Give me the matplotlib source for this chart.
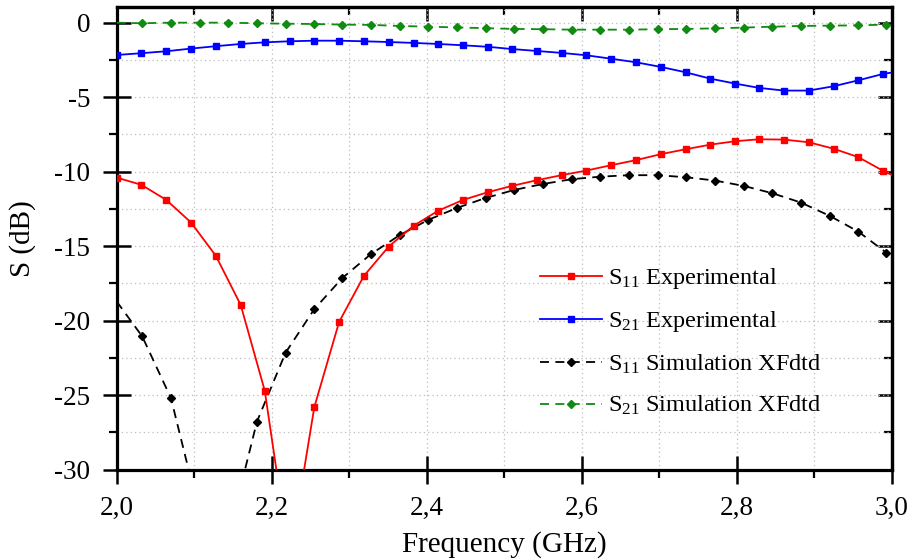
import matplotlib
matplotlib.use('Agg')
import matplotlib.pyplot as plt
from matplotlib.ticker import MultipleLocator, FuncFormatter

plt.rcParams['font.family'] = ['Liberation Serif', 'DejaVu Serif']
plt.rcParams['mathtext.default'] = 'regular'
plt.rcParams['axes.unicode_minus'] = False

# measured sweep: markers at every stored point, last point at 3.0 GHz has no marker
exp_freq = [2.000, 2.032, 2.064, 2.096, 2.128, 2.160, 2.191, 2.223, 2.255, 2.287,
            2.319, 2.351, 2.383, 2.415, 2.447, 2.479, 2.510, 2.542, 2.574, 2.606,
            2.638, 2.670, 2.702, 2.734, 2.766, 2.798, 2.829, 2.861, 2.893, 2.925,
            2.957, 2.989, 3.000]
s11_exp = [-10.40, -10.89, -11.90, -13.42, -15.66, -18.95, -24.70, -36.0, -25.81, -20.09,
           -17.00, -15.03, -13.64, -12.62, -11.90, -11.38, -10.96, -10.58, -10.24, -9.93,
           -9.57, -9.23, -8.83, -8.50, -8.19, -7.96, -7.83, -7.85, -8.03, -8.46,
           -9.03, -9.95, -10.22]
s21_exp = [-2.17, -2.05, -1.92, -1.74, -1.58, -1.43, -1.32, -1.25, -1.21, -1.21,
           -1.25, -1.30, -1.36, -1.43, -1.52, -1.62, -1.77, -1.90, -2.03, -2.19,
           -2.42, -2.66, -2.97, -3.33, -3.76, -4.09, -4.38, -4.56, -4.56, -4.27,
           -3.87, -3.44, -3.35]

# XFdtd simulation: first point (2.0 GHz) has no marker
sim_freq = [2.000, 2.033, 2.070, 2.107, 2.144, 2.181, 2.218, 2.255, 2.291, 2.328,
            2.365, 2.402, 2.439, 2.476, 2.513, 2.550, 2.587, 2.624, 2.661, 2.698,
            2.735, 2.772, 2.809, 2.846, 2.883, 2.920, 2.957, 2.993]
s11_sim = [-18.72, -21.07, -25.21, -33.0, -34.5, -26.78, -22.15, -19.23, -17.15, -15.54,
           -14.27, -13.24, -12.44, -11.77, -11.23, -10.83, -10.51, -10.34, -10.24, -10.24,
           -10.38, -10.60, -10.96, -11.45, -12.08, -12.97, -14.03, -15.44]
s21_sim = [0.00, -0.04, 0.00, 0.00, 0.00, -0.04, -0.07, -0.09, -0.13, -0.15,
           -0.22, -0.27, -0.32, -0.37, -0.42, -0.44, -0.47, -0.47, -0.47, -0.44,
           -0.42, -0.38, -0.33, -0.27, -0.22, -0.20, -0.18, -0.13]

fig = plt.figure(figsize=(9.11, 5.59), dpi=100)
ax = fig.add_axes([0.1281, 0.1601, 0.8507, 0.8268])

ax.plot(exp_freq, s11_exp, color='#ff0000', lw=1.3, marker='s', ms=5,
        markevery=slice(0, -1), label=r'S$_{11}$ Experimental', zorder=4)
ax.plot(exp_freq, s21_exp, color='#0000ff', lw=1.3, marker='s', ms=5,
        markevery=slice(0, -1), label=r'S$_{21}$ Experimental', zorder=4)
ax.plot(sim_freq, s11_sim, color='black', lw=1.3, ls=(0, (5, 3.5)), marker='D', ms=4.3,
        markevery=(1, 1), label=r'S$_{11}$ Simulation XFdtd', zorder=3)
ax.plot(sim_freq, s21_sim, color='#108a10', lw=1.3, ls=(0, (5, 3.5)), marker='D', ms=4.3,
        markevery=(1, 1), label=r'S$_{21}$ Simulation XFdtd', zorder=3)

ax.set_xlim(2.0, 3.0)
ax.set_ylim(-30, 1.03)

ax.xaxis.set_major_locator(MultipleLocator(0.2))
ax.xaxis.set_minor_locator(MultipleLocator(0.1))
ax.yaxis.set_major_locator(MultipleLocator(5))
ax.yaxis.set_minor_locator(MultipleLocator(2.5))
ax.xaxis.set_major_formatter(FuncFormatter(lambda v, p: f'{v:.1f}'.replace('.', ',')))
ax.yaxis.set_major_formatter(FuncFormatter(lambda v, p: f'{v:.0f}'))

ax.grid(which='both', color='#bdbdbd', lw=0.9, ls=(0, (1, 2.5)))

for s in ax.spines.values():
    s.set_linewidth(2.3)
ax.tick_params(which='major', direction='inout', length=20, width=1.8,
               labelsize=19.5)
ax.tick_params(axis='x', which='major', pad=9)
ax.tick_params(axis='y', which='major', pad=9)
ax.tick_params(which='minor', direction='out', length=6, width=1.6)

# top and right axes carry inward ticks only
top = ax.secondary_xaxis('top')
top.xaxis.set_major_locator(MultipleLocator(0.2))
top.xaxis.set_minor_locator(MultipleLocator(0.1))
top.tick_params(which='major', direction='in', length=10, width=1.8, labeltop=False)
top.tick_params(which='minor', direction='in', length=6, width=1.6)
right = ax.secondary_yaxis('right')
right.yaxis.set_major_locator(MultipleLocator(5))
right.yaxis.set_minor_locator(MultipleLocator(2.5))
right.tick_params(which='major', direction='in', length=10, width=1.8, labelright=False)
right.tick_params(which='minor', direction='in', length=6, width=1.6)
for sec in (top, right):
    for s in sec.spines.values():
        s.set_linewidth(2.3)

ax.set_xlabel('Frequency (GHz)', fontsize=21, labelpad=7)
ax.set_ylabel('S (dB)', fontsize=21, labelpad=13)

ax.legend(loc='upper left', bbox_to_anchor=(0.546, 0.44), frameon=False,
          fontsize=17.5, handlelength=2.55, handletextpad=0.25, labelspacing=0.75,
          borderpad=0, borderaxespad=0, numpoints=1)

fig.savefig('out.png', dpi=100)
